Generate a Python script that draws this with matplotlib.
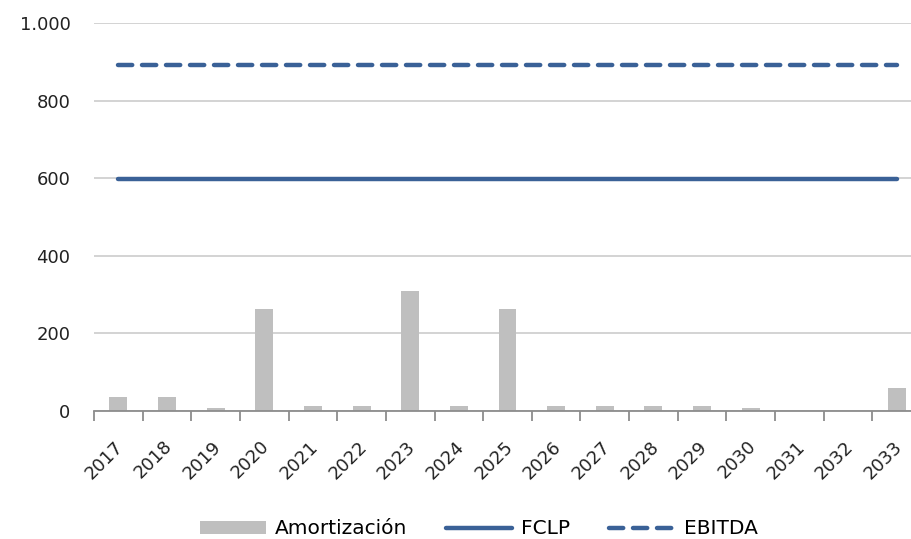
import matplotlib.pyplot as plt
import numpy as np
from matplotlib.ticker import FuncFormatter, FixedLocator
from matplotlib.lines import Line2D
from matplotlib.patches import Patch

# Debt amortization schedule vs cash flow and EBITDA
years = [str(y) for y in range(2017, 2034)]
amortizacion = [36, 36, 7, 263, 13, 13, 309, 13, 263, 13, 13, 13, 13, 7, 0, 0, 59]
fclp = [598] * len(years)
ebitda = [892] * len(years)

bar_color = '#BFBFBF'
line_color = '#3A6197'

fig = plt.figure(figsize=(9.12, 5.39), dpi=100)
# plot area runs slightly past the right edge of the canvas
ax = fig.add_axes([94 / 912, 1 - 411 / 539, 827 / 912, 388 / 539])

x = np.arange(len(years))
ax.bar(x, amortizacion, width=0.37, color=bar_color, zorder=2)
ax.plot(x, fclp, color=line_color, lw=3.2, solid_capstyle='round', zorder=3)
ax.plot(x, ebitda, color=line_color, lw=3.2, dashes=(3.2, 2.2),
        dash_capstyle='round', zorder=3)

ax.set_xlim(-0.5, len(years) - 0.5)
ax.set_ylim(0, 1000)
ax.set_yticks(range(0, 1001, 200))
ax.yaxis.set_major_formatter(FuncFormatter(lambda v, p: f'{int(v):,}'.replace(',', '.')))
ax.grid(axis='y', color='#D0D0D0', lw=1.3, zorder=0)

for s in ['top', 'right', 'left']:
    ax.spines[s].set_visible(False)
ax.spines['bottom'].set_color('#8C8C8C')
ax.spines['bottom'].set_linewidth(1.3)

ax.tick_params(axis='y', length=0, pad=17, labelsize=13, labelcolor='#222222')
ax.xaxis.set_major_locator(FixedLocator(np.arange(-0.5, len(years), 1.0)))
ax.xaxis.set_major_formatter(FuncFormatter(lambda v, p: ''))
ax.tick_params(axis='x', which='major', length=7, color='#8C8C8C', width=1.3)
ax.xaxis.set_minor_locator(FixedLocator(x - 0.08))
ax.set_xticklabels(years, minor=True, rotation=45, ha='right',
                   rotation_mode='anchor', fontsize=13, color='#222222')
ax.tick_params(axis='x', which='minor', length=0, pad=19)

handles = [Patch(facecolor=bar_color, edgecolor='none'),
           Line2D([], [], color=line_color, lw=3.2, solid_capstyle='round'),
           Line2D([], [], color=line_color, lw=3.2, dashes=(3.2, 2.2),
                  dash_capstyle='round')]
fig.legend(handles, ['Amortización', 'FCLP', 'EBITDA'], loc='center',
           bbox_to_anchor=(0.525, 1 - 529 / 539), ncol=3, frameon=False, fontsize=14.5,
           handlelength=3.3, handleheight=0.6, columnspacing=1.9, handletextpad=0.45)

fig.savefig('out.png', dpi=100)
